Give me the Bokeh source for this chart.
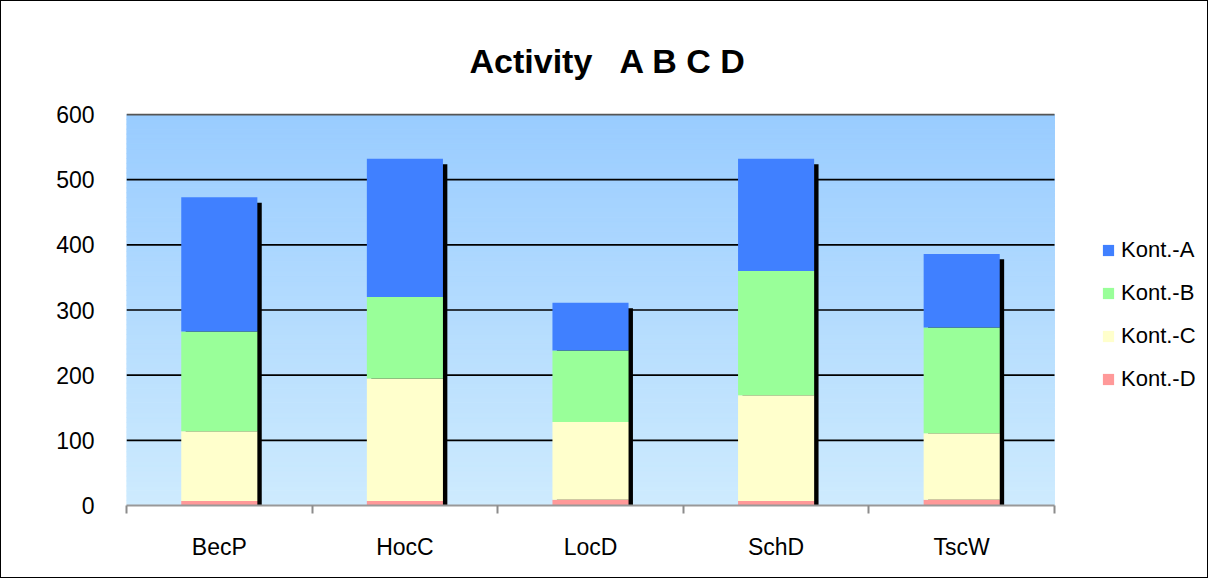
from bokeh.plotting import figure
from bokeh.models import ColumnDataSource, FixedTicker, Legend, LegendItem, Range1d
from bokeh.embed import file_html
from bokeh.resources import INLINE

# ---- data ----
categories = ["BecP", "HocC", "LocD", "SchD", "TscW"]
series = ["Kont.-A", "Kont.-B", "Kont.-C", "Kont.-D"]
kont_a = [206, 212, 73, 172, 113]
kont_b = [153, 125, 110, 191, 162]
kont_c = [107, 188, 119, 162, 102]
kont_d = [7, 7, 9, 7, 9]
y_ticks = [0, 100, 200, 300, 400, 500, 600]
title_text = "Activity \u00a0 A B C D"

# ---- styles ----
FONT = "Liberation Sans"
series_colors = ["#4080FF", "#99FF99", "#FFFFCC", "#FF9999"]
bar_width = 0.41
bg_top = (0x99, 0xCC, 0xFF)
bg_bottom = (0xCE, 0xEB, 0xFE)

n_cat = len(categories)
xs = [i + 0.5 for i in range(n_cat)]
totals = [a + b + c + d for a, b, c, d in zip(kont_a, kont_b, kont_c, kont_d)]

src = ColumnDataSource(dict(x=xs, a=kont_a, b=kont_b, c=kont_c, d=kont_d,
                            total=totals))

# frame extends to the right so the legend can sit inside it;
# the plot area proper covers x in [0, n_cat] (928 px wide)
fig_w, fig_h = 1208, 578
b_left, b_right = 125, 2
b_top, b_bottom = 112, 74
frame_px = fig_w - b_left - b_right
frame_h = fig_h - b_top - b_bottom
x_end = n_cat * frame_px / 928.0
y_end = y_ticks[-1] + (y_ticks[-1] - y_ticks[0]) / (frame_h - 1)  # 1px headroom for top line

p = figure(width=fig_w, height=fig_h, x_range=Range1d(0, x_end),
           y_range=Range1d(y_ticks[0], y_end),
           output_backend="svg", toolbar_location=None,
           min_border_left=b_left, min_border_right=b_right,
           min_border_top=b_top, min_border_bottom=b_bottom)
p.outline_line_color = None
p.background_fill_color = "white"
p.border_fill_color = "white"

# gradient background (styling strips) over the plot area
n_strips = 80
ymin, ymax = y_ticks[0], y_ticks[-1]
step = (ymax - ymin) / n_strips
bots, tops, cols = [], [], []
for i in range(n_strips):
    t = (i + 0.5) / n_strips
    r, g, b = [round(bg_bottom[k] + (bg_top[k] - bg_bottom[k]) * t) for k in range(3)]
    bots.append(ymin + i * step)
    tops.append(ymin + (i + 1) * step)
    cols.append("#%02x%02x%02x" % (r, g, b))
p.quad(left=0, right=n_cat, bottom=bots, top=tops, fill_color=cols,
       line_color=cols, line_width=1, level="image")

# horizontal gridlines at the y ticks, limited to the plot area
p.xgrid.grid_line_color = None
p.ygrid.grid_line_color = None
p.segment(x0=0, x1=n_cat, y0=y_ticks[1:-1], y1=y_ticks[1:-1],
          line_color="black", line_width=1.6)
p.segment(x0=0, x1=n_cat, y0=y_ticks[-1:], y1=y_ticks[-1:],
          line_color="#555555", line_width=1.8)

# shadows
shadow_dx = 0.0237
shadow_dy = 8.3
p.vbar(x=[x + shadow_dx for x in xs], top=[t - shadow_dy for t in totals],
       bottom=0, width=bar_width, fill_color="black", line_color=None)

# stacked bars
stackers = ["d", "c", "b", "a"]
rends = p.vbar_stack(stackers, x="x", width=bar_width, source=src,
                     fill_color=series_colors[::-1], line_color=None)
rend_map = dict(zip(stackers, rends))

# y axis
p.yaxis.ticker = FixedTicker(ticks=y_ticks)
p.yaxis.axis_line_color = None
p.yaxis.major_tick_line_color = None
p.yaxis.minor_tick_line_color = None
p.yaxis.major_tick_out = 0
p.yaxis.major_label_standoff = 32
p.yaxis.major_label_text_font = FONT
p.yaxis.major_label_text_font_size = "23px"
p.yaxis.major_label_text_color = "black"

# x axis
p.xaxis.bounds = (0, n_cat)
p.xaxis.ticker = FixedTicker(ticks=xs, minor_ticks=list(range(n_cat + 1)))
p.xaxis.major_label_overrides = {x: c for x, c in zip(xs, categories)}
p.xaxis.major_tick_line_color = None
p.xaxis.major_tick_out = 0
p.xaxis.major_tick_in = 0
p.xaxis.minor_tick_line_color = "#8c8c8c"
p.xaxis.minor_tick_line_width = 2
p.xaxis.minor_tick_out = 8
p.xaxis.minor_tick_in = 0
p.xaxis.axis_line_color = "#999999"
p.xaxis.axis_line_width = 2
p.xaxis.major_label_standoff = 20
p.xaxis.major_label_text_font = FONT
p.xaxis.major_label_text_font_size = "23px"
p.xaxis.major_label_text_color = "black"

# title
p.title.text = title_text
p.title.align = "left"
p.title.offset = 343
p.title.standoff = 68
p.title.text_font = FONT
p.title.text_font_size = "34px"
p.title.text_font_style = "bold"
p.title.text_color = "black"

# legend (inside the extended frame, right of the plot area)
items = [LegendItem(label=s, renderers=[rend_map[k]])
         for s, k in zip(series, ["a", "b", "c", "d"])]
legend = Legend(items=items, location=(975, 113))
legend.padding = 0
legend.margin = 0
legend.border_line_color = None
legend.background_fill_alpha = 0
legend.glyph_width = 14
legend.glyph_height = 14
legend.label_height = 24
legend.spacing = 17
legend.label_standoff = 6
legend.label_text_font = FONT
legend.label_text_font_size = "22px"
legend.label_text_color = "black"
p.add_layout(legend, "center")

p.styles = {"border": "1.5px solid black"}

open("out.html", "w").write(file_html(p, INLINE))
